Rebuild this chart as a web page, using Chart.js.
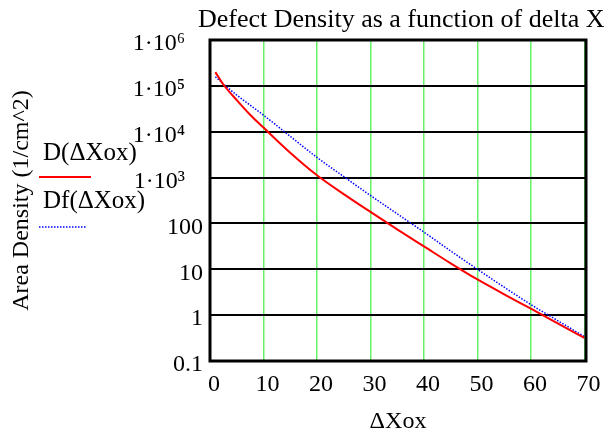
<!DOCTYPE html>
<html>
<head>
<meta charset="utf-8">
<script src="https://cdn.jsdelivr.net/npm/chart.js@4.4.0/dist/chart.umd.min.js"></script>
<style>
  html, body { margin: 0; padding: 0; background: #ffffff; }
</style>
</head>
<body>
<canvas id="defect-chart" width="606" height="434"></canvas>
<script>
// values
var deltaXox  = [1, 2.5, 5, 7.5, 10, 15, 20, 25, 30, 35, 40, 45, 50, 55, 60, 65, 70];
var densityD  = [199500, 107000, 49000, 23500, 12300, 3470, 1120, 436, 178, 74, 31.6, 13.5, 6.0, 2.85, 1.38, 0.66, 0.32];
var densityDf = [158000, 110000, 63000, 38000, 23000, 7940, 2750, 1050, 407, 162, 64.6, 25.1, 10.0, 4.07, 1.70, 0.76, 0.34];

var xTicks = [0, 10, 20, 30, 40, 50, 60, 70];
var yTicks = [0.1, 1, 10, 100, 1e3, 1e4, 1e5, 1e6];
var yTickLabels = ['0.1', '1', '10', '100', '1\u00b710\u00b3', '1\u00b710\u2074', '1\u00b710\u2075', '1\u00b710\u2076'];
var seriesNames = ['D(\u0394Xox)', 'Df(\u0394Xox)'];
var chartTitle = 'Defect Density as a function of delta X';

var serif = '"Liberation Serif", "Times New Roman", serif';

function points(ys) {
  return deltaXox.map(function (x, i) { return { x: x, y: ys[i] }; });
}

// title, legend and frame drawn by hand, Mathcad style
var mathcadBits = {
  id: 'mathcadBits',
  afterDatasetsDraw: function (chart) {
    var ctx = chart.ctx, a = chart.chartArea;
    ctx.save();
    ctx.strokeStyle = '#000';
    ctx.lineWidth = 3;
    ctx.strokeRect(a.left, a.top, a.right - a.left, a.bottom - a.top);

    ctx.fillStyle = '#000';
    ctx.textAlign = 'left';
    ctx.textBaseline = 'alphabetic';
    ctx.font = '26px ' + serif;
    ctx.fillText(chartTitle, 198, 27);

    ctx.font = '25px ' + serif;
    ctx.fillText(seriesNames[0], 43, 160);
    ctx.fillText(seriesNames[1], 43, 208);

    ctx.lineWidth = 2;
    ctx.strokeStyle = '#ff0000';
    ctx.beginPath(); ctx.moveTo(39, 177); ctx.lineTo(91, 177); ctx.stroke();

    ctx.lineWidth = 1.5;
    ctx.strokeStyle = '#0000ff';
    ctx.setLineDash([1.5, 1.5]);
    ctx.beginPath(); ctx.moveTo(39, 227); ctx.lineTo(87, 227); ctx.stroke();
    ctx.restore();
  }
};

new Chart(document.getElementById('defect-chart'), {
  type: 'line',
  data: {
    datasets: [{
      label: seriesNames[0],
      data: points(densityD),
      borderColor: '#ff0000',
      borderWidth: 2,
      pointRadius: 0,
      cubicInterpolationMode: 'monotone',
      fill: false
    }, {
      label: seriesNames[1],
      data: points(densityDf),
      borderColor: '#0000ff',
      borderWidth: 1.5,
      borderDash: [1.5, 1.5],
      pointRadius: 0,
      cubicInterpolationMode: 'monotone',
      fill: false
    }]
  },
  options: {
    responsive: false,
    animation: false,
    devicePixelRatio: 1,
    layout: { padding: { top: 40, right: 20, left: 0, bottom: 0 } },
    plugins: {
      legend: { display: false },
      title: { display: false },
      tooltip: { enabled: false }
    },
    scales: {
      x: {
        type: 'linear',
        min: 0,
        max: 70.3,
        afterBuildTicks: function (scale) {
          scale.ticks = xTicks.map(function (v) { return { value: v }; });
        },
        afterFit: function (scale) { scale.height = 73; },
        grid: { color: '#66f266', lineWidth: 1.5, drawTicks: false },
        border: { display: false },
        ticks: {
          padding: 9,
          labelOffset: 4,
          color: '#000',
          font: { family: serif, size: 24 },
          callback: function (v) { return String(v); }
        },
        title: {
          display: true,
          text: '\u0394Xox',
          color: '#000',
          font: { family: serif, size: 24, lineHeight: 1 },
          padding: { top: 0, bottom: 0 }
        }
      },
      y: {
        type: 'logarithmic',
        min: 0.1,
        max: 1e6,
        afterBuildTicks: function (scale) {
          scale.ticks = yTicks.map(function (v) { return { value: v }; });
        },
        afterFit: function (scale) { scale.width = 210; },
        grid: { color: '#000', lineWidth: 2, drawTicks: false },
        border: { display: false },
        ticks: {
          padding: 7,
          labelOffset: 4,
          color: '#000',
          font: { family: serif, size: 24 },
          callback: function (v) {
            var i = yTicks.indexOf(v);
            if (i < 0) return '';
            return yTickLabels[i] + (v >= 1000 ? '   ' : '');
          }
        },
        title: {
          display: true,
          text: 'Area Density (1/cm^2)',
          color: '#000',
          font: { family: serif, size: 24, lineHeight: 1 },
          padding: { top: 10, bottom: 0 }
        }
      }
    }
  },
  plugins: [mathcadBits]
});
</script>
</body>
</html>
